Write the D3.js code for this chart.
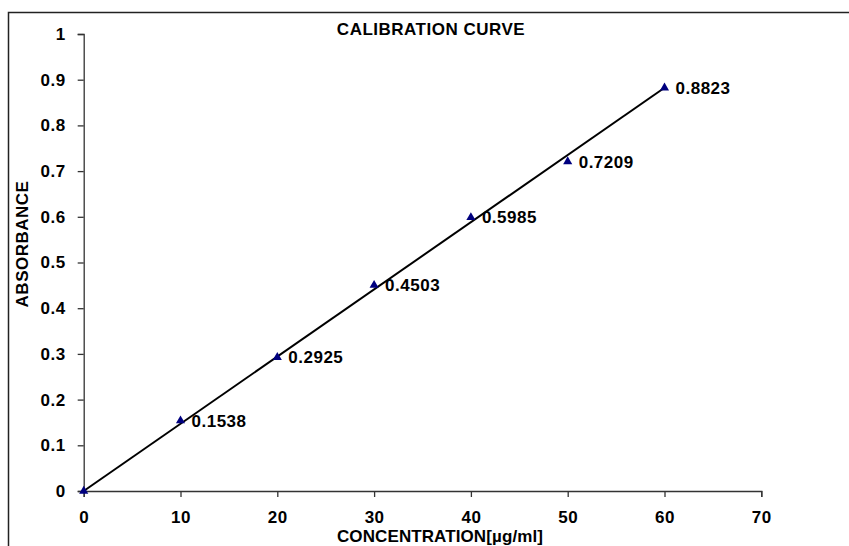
<!doctype html>
<html>
<head>
<meta charset="utf8">
<style>
  body { margin: 0; background: #fff; }
  svg { display: block; font-family: "Liberation Sans", Arial, sans-serif; font-weight: bold; letter-spacing: 0.5px; }
</style>
<script src="https://d3js.org/d3.v7.min.js"></script>
</head>
<body>
<svg width="849" height="546"></svg>
<script>
var concentration = [0, 10, 20, 30, 40, 50, 60];
var absorbance = [0, 0.1538, 0.2925, 0.4503, 0.5985, 0.7209, 0.8823];
var xTicks = [0, 10, 20, 30, 40, 50, 60, 70];
var yTicks = [0, 0.1, 0.2, 0.3, 0.4, 0.5, 0.6, 0.7, 0.8, 0.9, 1];

var svg = d3.select("svg");

// outer chart border (cut off at right/bottom like the source)
svg.append("rect")
   .attr("x", 8.5).attr("y", 12.5)
   .attr("width", 900).attr("height", 600)
   .attr("fill", "none")
   .attr("stroke", "#222")
   .attr("stroke-width", 1.5);

var x = d3.scaleLinear().domain([0, 70]).range([83.7, 761.3]);
var y = d3.scaleLinear().domain([0, 1]).range([491, 34]);

var g = svg.append("g");

var xAxis = g.append("g")
   .attr("transform", "translate(0," + y(0) + ")")
   .call(d3.axisBottom(x).tickValues(xTicks).tickSize(6).tickPadding(14).tickFormat(d3.format("d")));

var yAxis = g.append("g")
   .attr("transform", "translate(" + x(0) + ",0)")
   .call(d3.axisLeft(y).tickValues(yTicks).tickSize(6).tickPadding(12).tickFormat(function(d) { return d3.format("")(+d.toFixed(1)); }));

[xAxis, yAxis].forEach(function(a) {
    a.select(".domain").attr("stroke", "#333").attr("stroke-width", 1.3);
    a.selectAll(".tick line").attr("stroke", "#333").attr("stroke-width", 1.3);
    a.selectAll("text")
     .attr("font-family", "Liberation Sans, Arial, sans-serif")
     .attr("font-weight", "bold")
     .attr("font-size", "17px")
     .attr("fill", "#000");
});

// trend line: least squares through origin
var sxy = d3.sum(concentration, function(c, i) { return c * absorbance[i]; });
var sxx = d3.sum(concentration, function(c) { return c * c; });
var slope = sxy / sxx;
var xMax = d3.max(concentration);

g.append("line")
 .attr("x1", x(0)).attr("y1", y(0))
 .attr("x2", x(xMax)).attr("y2", y(slope * xMax))
 .attr("stroke", "#000")
 .attr("stroke-width", 2);

var tri = d3.symbol().type(d3.symbolTriangle).size(36);

g.selectAll(".pt")
 .data(concentration)
 .enter().append("path")
 .attr("class", "pt")
 .attr("d", tri)
 .attr("transform", function(d, i) { return "translate(" + x(d) + "," + y(absorbance[i]) + ")"; })
 .attr("fill", "#00007f");

g.selectAll(".lbl")
 .data(concentration.slice(1))
 .enter().append("text")
 .attr("class", "lbl")
 .attr("x", function(d) { return x(d) + 11; })
 .attr("y", function(d, i) { return y(absorbance[i + 1]) + 6; })
 .attr("font-size", "17px")
 .text(function(d, i) { return absorbance[i + 1].toFixed(4); });

svg.append("text")
   .attr("x", 431).attr("y", 35)
   .attr("text-anchor", "middle")
   .attr("font-size", "17px")
   .text("CALIBRATION CURVE");

svg.append("text")
   .attr("x", 440).attr("y", 542)
   .attr("text-anchor", "middle")
   .attr("font-size", "17px")
   .attr("letter-spacing", "0.1px")
   .text("CONCENTRATION[µg/ml]");

svg.append("text")
   .attr("transform", "translate(28,244) rotate(-90)")
   .attr("text-anchor", "middle")
   .attr("font-size", "17px")
   .text("ABSORBANCE");
</script>
</body>
</html>
